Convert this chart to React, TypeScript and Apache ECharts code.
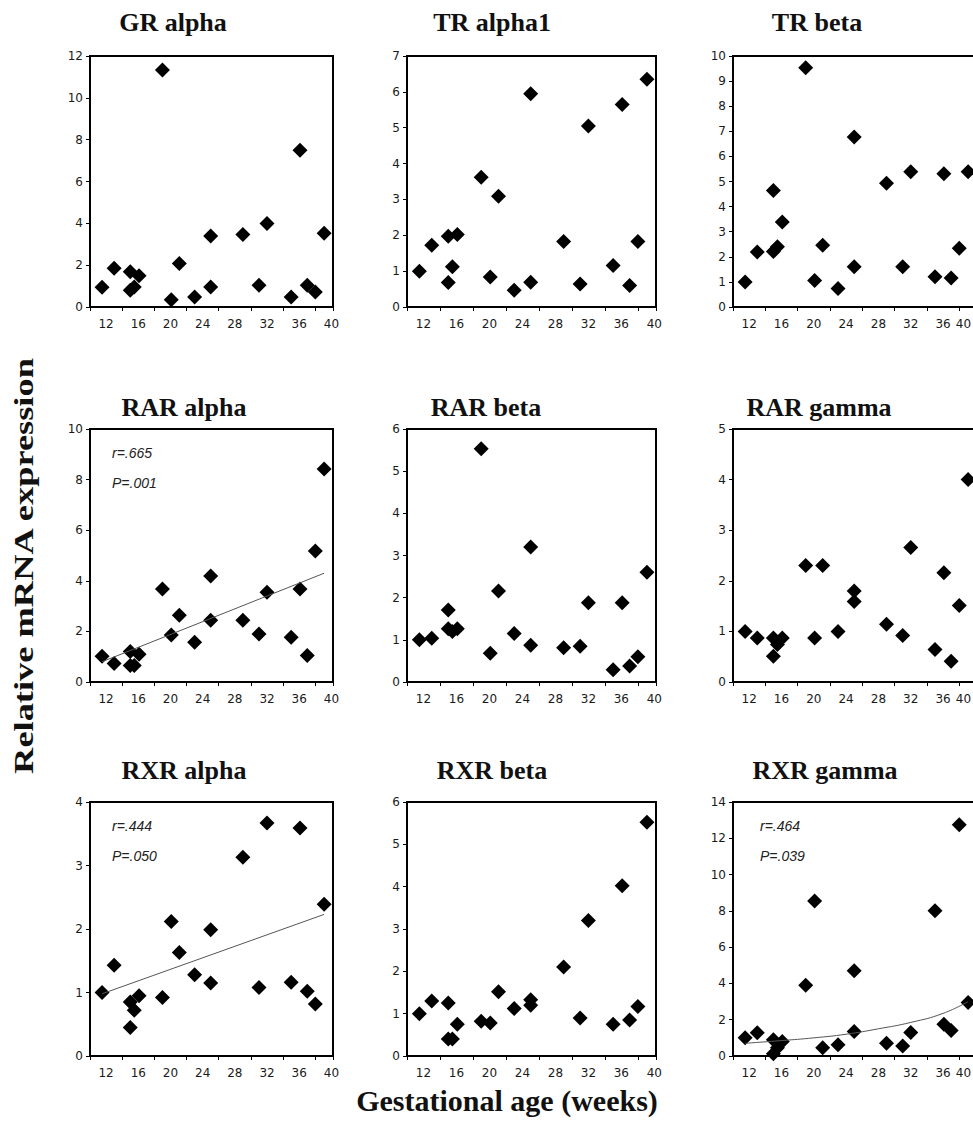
import React, { useEffect, useRef } from 'react';
import * as echarts from 'echarts';

// Gestational age (weeks), same samples in every panel
const weeks = [11.5, 13.0, 15.0, 15.0, 15.5, 16.1, 19.0, 20.1, 21.1, 23.0, 25.0, 25.0, 29.0, 31.0, 32.0, 35.0, 36.1, 37.0, 38.0, 39.1];

const grAlpha = [0.95, 1.85, 1.68, 0.8, 0.96, 1.5, 11.33, 0.35, 2.08, 0.48, 3.39, 0.96, 3.47, 1.04, 3.99, 0.48, 7.49, 1.04, 0.72, 3.53];
const trAlpha1 = [1.0, 1.72, 1.97, 0.68, 1.12, 2.02, 3.62, 0.84, 3.09, 0.47, 5.95, 0.69, 1.83, 0.64, 5.05, 1.16, 5.65, 0.6, 1.83, 6.35];
const trBeta = [1.0, 2.19, 2.21, 4.64, 2.4, 3.39, 9.53, 1.06, 2.46, 0.74, 6.77, 1.6, 4.93, 1.6, 5.39, 1.21, 5.31, 1.16, 2.34, 5.39];
const rarAlpha = [1.02, 0.73, 1.21, 0.65, 0.65, 1.1, 3.68, 1.86, 2.64, 1.57, 4.19, 2.44, 2.44, 1.9, 3.55, 1.77, 3.68, 1.05, 5.18, 8.42];
const rarBeta = [1.0, 1.04, 1.71, 1.26, 1.2, 1.26, 5.53, 0.68, 2.16, 1.15, 3.2, 0.87, 0.81, 0.85, 1.88, 0.29, 1.88, 0.38, 0.6, 2.6];
const rarGamma = [1.0, 0.87, 0.87, 0.51, 0.74, 0.87, 2.3, 0.87, 2.3, 1.0, 1.8, 1.59, 1.14, 0.92, 2.66, 0.64, 2.16, 0.41, 1.51, 4.0];
const rxrAlpha = [1.0, 1.43, 0.85, 0.45, 0.72, 0.95, 0.92, 2.12, 1.63, 1.28, 1.99, 1.15, 3.13, 1.08, 3.67, 1.16, 3.59, 1.02, 0.82, 2.39];
const rxrBeta = [1.0, 1.3, 1.25, 0.4, 0.4, 0.75, 0.82, 0.78, 1.52, 1.12, 1.33, 1.2, 2.1, 0.9, 3.2, 0.75, 4.02, 0.85, 1.17, 5.52];
const rxrGamma = [1.0, 1.28, 0.9, 0.12, 0.45, 0.8, 3.9, 8.55, 0.45, 0.62, 4.7, 1.35, 0.7, 0.55, 1.3, 8.0, 1.75, 1.4, 12.75, 2.95];

// Fitted trend lines
const rarAlphaFit = [[11.5, 0.8], [39.1, 4.3]];
const rxrAlphaFit = [[11.5, 0.98], [39.1, 2.23]];
const rxrGammaFit = [[11.5, 0.7], [16, 0.85], [20, 1.0], [24, 1.2], [28, 1.5], [32, 1.85], [36, 2.35], [39.1, 3.0]];

const titles = ['GR alpha', 'TR alpha1', 'TR beta', 'RAR alpha', 'RAR beta', 'RAR gamma', 'RXR alpha', 'RXR beta', 'RXR gamma'];
const values = [grAlpha, trAlpha1, trBeta, rarAlpha, rarBeta, rarGamma, rxrAlpha, rxrBeta, rxrGamma];
const yMaxes = [12, 7, 10, 10, 6, 5, 4, 6, 14];
const yIntervals = [2, 1, 1, 2, 1, 1, 1, 1, 2];
const fits: (number[][] | null)[] = [null, null, null, rarAlphaFit, null, null, rxrAlphaFit, null, rxrGammaFit];
const stats: (string[] | null)[] = [null, null, null, ['r=.665', 'P=.001'], null, null, ['r=.444', 'P=.050'], null, ['r=.464', 'P=.039']];
const xTickLabels = [12, 16, 20, 24, 28, 32, 36, 40];

const X_MIN = 10;
const X_MAX = 40.2;

const COL_LEFT = [90, 407, 733];
const COL_WIDTH = [243, 249, 244];
const ROW_TOP = [56, 429, 802];
const ROW_HEIGHT = [251, 253, 254];
const TITLE_X = [[173, 492, 817], [184, 486, 819], [184, 492, 825]];
const TITLE_Y = [22, 407, 770];
const STAT_DX = [22, 22, 27];

export default function App() {
  const ref = useRef<HTMLDivElement>(null);
  useEffect(() => {
    const chart = echarts.init(ref.current as HTMLDivElement, null, { renderer: 'svg' });
    const grids: any[] = [];
    const xAxes: any[] = [];
    const yAxes: any[] = [];
    const series: any[] = [];
    const graphics: any[] = [];
    const tickFont = { fontFamily: 'DejaVu Sans', fontSize: 12, color: '#1a1a1a' };

    titles.forEach((title, i) => {
      const r = Math.floor(i / 3);
      const c = i % 3;
      const lastCol = c === 2;
      grids.push({
        left: COL_LEFT[c], top: ROW_TOP[r], width: COL_WIDTH[c], height: ROW_HEIGHT[r],
        show: true, borderColor: '#000', borderWidth: 2, backgroundColor: 'transparent',
        outerBoundsMode: 'none', containLabel: false,
      });
      xAxes.push({
        type: 'value', gridIndex: i, min: X_MIN, max: X_MAX, interval: 2, position: 'bottom',
        axisLine: { show: false }, axisTick: { show: false }, splitLine: { show: false },
        axisLabel: {
          ...tickFont, margin: 11,
          rich: { edge: { ...tickFont, padding: [0, 24, 0, 0] } },
          formatter: (v: number) => {
            const rv = Math.round(v);
            if (!(Math.abs(v - rv) < 1e-6 && xTickLabels.includes(rv))) return '';
            if (lastCol && rv === 40) return '{edge|40}';
            return String(rv);
          },
        },
      });
      xAxes.push({
        type: 'value', gridIndex: i, min: X_MIN, max: X_MAX, interval: 4, position: 'bottom',
        axisLine: { show: false },
        axisTick: { show: true, inside: false, length: 4, lineStyle: { color: '#000', width: 1 } },
        axisLabel: { show: false }, splitLine: { show: false },
      });
      yAxes.push({
        type: 'value', gridIndex: i, min: 0, max: yMaxes[i], interval: yIntervals[i],
        axisLine: { show: false },
        axisTick: { show: true, inside: false, length: 4, lineStyle: { color: '#000', width: 1 } },
        splitLine: { show: false },
        axisLabel: { ...tickFont, margin: 7 },
      });
      series.push({
        type: 'scatter', xAxisIndex: 2 * i, yAxisIndex: i,
        data: weeks.map((w, k) => [w, values[i][k]]),
        symbol: 'diamond', symbolSize: 15, itemStyle: { color: '#000', opacity: 1 }, silent: true,
      });
      const fit = fits[i];
      if (fit) {
        series.push({
          type: 'line', xAxisIndex: 2 * i, yAxisIndex: i, data: fit, showSymbol: false,
          smooth: fit.length > 2, lineStyle: { color: '#555', width: 1 }, silent: true,
        });
      }
      graphics.push({
        type: 'text', x: TITLE_X[r][c], y: TITLE_Y[r],
        style: { text: title, font: 'bold 26px "Liberation Serif"', fill: '#111', textAlign: 'center', textVerticalAlign: 'middle' },
      });
      const st = stats[i];
      if (st) {
        st.forEach((s, k) => {
          graphics.push({
            type: 'text', x: COL_LEFT[c] + STAT_DX[c], y: ROW_TOP[r] + 24 + k * 30,
            style: { text: s, font: 'italic 14px "Liberation Sans"', fill: '#222', textAlign: 'left', textVerticalAlign: 'middle' },
          });
        });
      }
    });

    graphics.push({
      type: 'text', x: 24, y: 566, rotation: Math.PI / 2, scaleX: 1.3,
      style: { text: 'Relative mRNA expression', font: 'bold 28px "Liberation Serif"', fill: '#111', textAlign: 'center', textVerticalAlign: 'middle' },
    });
    graphics.push({
      type: 'text', x: 507, y: 1100,
      style: { text: 'Gestational age (weeks)', font: 'bold 30px "Liberation Serif"', fill: '#111', textAlign: 'center', textVerticalAlign: 'middle' },
    });

    chart.setOption({
      animation: false,
      backgroundColor: '#fff',
      grid: grids,
      xAxis: xAxes,
      yAxis: yAxes,
      series,
      graphic: graphics,
    });
    return () => chart.dispose();
  }, []);

  return (
    <div style={{ position: 'absolute', left: 0, top: 0, width: 973, height: 1129, overflow: 'hidden', background: '#fff' }}>
      <div ref={ref} style={{ width: 990, height: 1129 }} />
    </div>
  );
}
